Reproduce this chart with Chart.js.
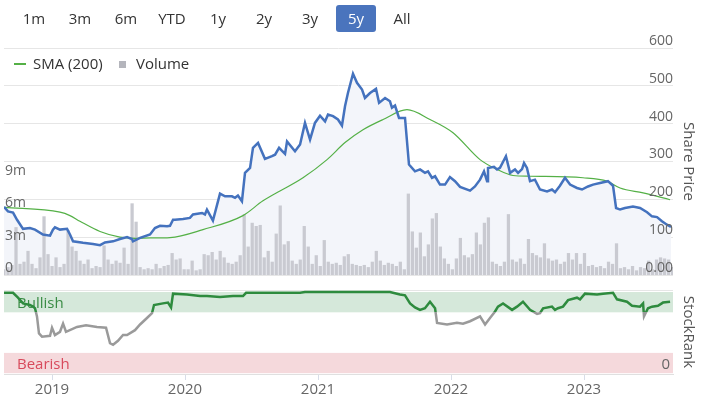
<!DOCTYPE html>
<html>
<head>
<meta charset="utf-8">
<script src="https://cdn.jsdelivr.net/npm/chart.js@4/dist/chart.umd.min.js"></script>
<style>
body { margin: 0; background: #fff; font-family: 'Open Sans', sans-serif; }
#wrap { position: relative; width: 705px; height: 397px; overflow: hidden; }
canvas { position: absolute; left: 0; }
#cTop { top: 0; }
#cRank { top: 283px; }
.btn { position: absolute; top: 5px; width: 40px; height: 27px; line-height: 27px; text-align: center;
       font-size: 15px; color: #333; border-radius: 3px; }
.btn.on { background: #4a74bd; color: #fff; }
.leg { position: absolute; font-size: 15px; color: #333; line-height: 20px; top: 53px; }
#legLine { position: absolute; left: 14px; top: 63px; width: 12px; height: 1.5px; background: #54b046; }
#legBox { position: absolute; left: 119px; top: 61px; width: 7px; height: 7px; background: #b4b5bc; }
</style>
</head>
<body>
<div id="wrap">
  <canvas id="cTop" width="705" height="283"></canvas>
  <canvas id="cRank" width="705" height="114"></canvas>
  <div id="botones"></div>
  <div id="legLine"></div><div class="leg" style="left:33px">SMA (200)</div>
  <div id="legBox"></div><div class="leg" style="left:136px">Volume</div>
</div>
<script>
// --- Datos (x en años decimales) ---
const rangos = ["1m", "3m", "6m", "YTD", "1y", "2y", "3y", "5y", "All"];
const rangoActivo = "5y";

const xMin = 2018.639, xMax = 2023.669;
const anios = [2019, 2020, 2021, 2022, 2023];

const precioX = [2018.639,2018.669,2018.707,2018.737,2018.782,2018.834,2018.872,2018.932,2018.985,2019.007,
  2019.022,2019.060,2019.113,2019.135,2019.158,2019.233,2019.308,2019.361,2019.398,2019.459,
  2019.511,2019.564,2019.601,2019.609,2019.662,2019.737,2019.774,2019.812,2019.865,2019.887,
  2019.910,2019.925,2019.985,2020.037,2020.060,2020.128,2020.150,2020.165,2020.210,2020.263,
  2020.301,2020.353,2020.376,2020.398,2020.428,2020.451,2020.489,2020.511,2020.549,2020.601,
  2020.654,2020.677,2020.707,2020.752,2020.767,2020.827,2020.865,2020.902,2020.940,2020.977,
  2021.015,2021.053,2021.075,2021.113,2021.150,2021.180,2021.203,2021.225,2021.263,2021.293,
  2021.331,2021.353,2021.391,2021.436,2021.459,2021.504,2021.541,2021.556,2021.579,2021.609,
  2021.654,2021.684,2021.729,2021.767,2021.804,2021.827,2021.857,2021.880,2021.917,2021.955,
  2021.992,2022.030,2022.068,2022.143,2022.180,2022.218,2022.248,2022.271,2022.278,2022.323,
  2022.346,2022.368,2022.413,2022.444,2022.481,2022.504,2022.534,2022.549,2022.571,2022.594,
  2022.631,2022.669,2022.722,2022.759,2022.782,2022.819,2022.857,2022.895,2022.947,2022.985,
  2023.030,2023.068,2023.120,2023.180,2023.218,2023.241,2023.271,2023.308,2023.368,2023.421,
  2023.474,2023.511,2023.549,2023.586,2023.624,2023.654];
const precio = [180,168,165,146,122,124,120,107,104,120,
  126,120,122,107,89,85,82,79,86,89,
  95,100,95,89,98,107,124,130,129,130,
  146,146,148,151,160,164,160,173,144,215,
  208,208,204,210,195,270,283,336,349,307,
  314,318,336,320,353,327,345,402,358,402,
  421,406,424,420,411,395,446,481,532,508,
  490,468,481,492,455,468,459,442,448,415,
  415,292,274,279,270,274,257,261,239,239,
  259,248,233,223,234,252,274,248,283,286,
  279,283,314,270,279,270,280,296,283,248,
  252,226,221,226,219,236,257,239,230,226,
  234,239,243,248,236,177,173,177,181,177,
  166,155,153,142,133,127];

const smaX = [2018.639,2019.060,2019.135,2019.210,2019.361,2019.511,2019.624,2019.737,2019.887,2020.135,
  2020.436,2020.586,2020.887,2021.068,2021.203,2021.338,2021.489,2021.669,2021.842,2022.015,
  2022.218,2022.346,2022.466,2022.594,2022.992,2023.173,2023.271,2023.444,2023.647];
const sma = [179,166,157,142,115,100,97,98,99,120,
  157,196,257,305,350,384,411,437,411,376,
  305,279,263,261,257,248,230,217,199];

// volumen en millones, un valor cada 0.0301 años
const volInicio = 2018.639, volPaso = 0.0301;
const volumen = [0.5,0.7,0.9,4.4,1.0,1.2,2.2,1.0,0.6,1.6,
  5.4,1.9,0.8,1.6,0.7,1.0,4.1,2.6,2.2,1.3,
  1.0,1.4,0.6,0.8,0.7,2.7,1.4,1.0,1.3,1.1,
  2.5,1.0,6.6,4.9,0.7,0.5,0.6,0.5,1.0,0.6,
  0.8,0.9,2.0,1.4,1.5,0.5,0.5,1.3,0.4,0.5,
  1.9,1.8,2.1,1.4,2.2,1.6,1.1,1.0,1.2,1.8,
  5.6,2.6,4.8,4.5,4.6,1.6,2.2,1.2,3.8,6.4,
  2.8,3.1,1.3,1.0,1.4,4.5,2.6,1.0,1.8,0.8,
  3.2,1.2,1.0,1.1,0.9,1.7,1.9,1.0,0.9,0.8,
  0.9,0.7,1.2,2.2,1.3,0.9,1.1,1.0,0.8,1.2,
  0.5,7.5,4.0,2.5,3.9,1.7,2.8,5.2,5.7,2.6,
  1.5,1.0,0.5,1.5,3.4,1.8,1.6,1.9,3.9,2.8,
  4.8,5.3,1.2,1.0,0.8,1.2,5.6,1.4,1.2,1.5,
  1.0,3.3,2.0,1.8,1.6,2.9,1.5,1.3,1.4,1.0,
  1.2,2.0,1.4,2.0,1.0,2.0,0.8,0.9,0.7,0.8,
  0.6,1.2,1.0,2.9,0.6,0.7,0.5,0.8,0.4,0.7,
  0.6,1.3,0.5,1.4,1.6,1.5,1.4,0.7];

const precioTicks = [0, 100, 200, 300, 400, 500, 600];
const volTicks = [0, 3, 6, 9];
const volEtiquetas = ["0", "3m", "6m", "9m"];

const rankX = [2018.639,2018.707,2018.744,2018.782,2018.834,2018.857,2018.872,2018.887,2018.902,2018.925,
  2018.985,2019.000,2019.022,2019.060,2019.083,2019.105,2019.188,2019.256,2019.338,2019.406,
  2019.436,2019.459,2019.496,2019.534,2019.564,2019.624,2019.662,2019.714,2019.752,2019.767,
  2019.834,2019.872,2019.895,2019.910,2020.015,2020.113,2020.165,2020.263,2020.361,2020.436,
  2020.459,2020.616,2020.865,2020.902,2021.278,2021.541,2021.616,2021.654,2021.692,2021.729,
  2021.767,2021.804,2021.842,2021.880,2021.895,2021.970,2022.045,2022.090,2022.143,2022.218,
  2022.256,2022.293,2022.331,2022.353,2022.391,2022.459,2022.496,2022.541,2022.594,2022.647,
  2022.669,2022.692,2022.759,2022.782,2022.804,2022.842,2022.880,2022.947,2022.970,2023.007,
  2023.098,2023.143,2023.218,2023.248,2023.323,2023.361,2023.421,2023.444,2023.451,2023.481,
  2023.511,2023.556,2023.594,2023.647];
const rank = [99,99,93,86,84,82,80,70,49,45,
  46,56,47,51,61,51,57,59,57,56,
  37,35,40,47,47,53,60,68,74,84,
  86,87,81,98,97,95,95,94,95,95,
  99,99,99,100,100,100,97,96,86,81,
  78,80,88,80,62,60,62,61,64,70,
  60,68,76,82,86,78,82,88,78,73,
  74,80,82,78,80,82,90,93,91,98,
  97,98,99,91,88,83,82,86,70,80,
  82,83,87,88];

const zonas = ["Bullish", "Bearish"];
const limiteBull = 75, limiteBear = 25;

// --- Botones de rango ---
const cont = document.getElementById("botones");
rangos.forEach((r, i) => {
  const b = document.createElement("div");
  b.className = "btn" + (r === rangoActivo ? " on" : "");
  b.style.left = (14 + 46 * i) + "px";
  b.textContent = r;
  cont.appendChild(b);
});

Chart.defaults.font.family = "'Open Sans', sans-serif";

const puntos = (xs, ys) => xs.map((x, i) => ({ x: x, y: ys[i] }));
const volPts = volumen.map((v, i) => ({ x: volInicio + i * volPaso, y: v }));

// --- Grafico superior: precio, SMA y volumen ---
new Chart(document.getElementById("cTop"), {
  type: "line",
  data: {
    datasets: [
      {
        label: "Price", data: puntos(precioX, precio), yAxisID: "price", order: 1,
        borderColor: "#4472be", borderWidth: 2.5, pointRadius: 0,
        fill: "origin", backgroundColor: "#f3f5fa"
      },
      {
        label: "SMA (200)", data: puntos(smaX, sma), yAxisID: "price", order: 2,
        borderColor: "#54b046", borderWidth: 1.2, pointRadius: 0,
        cubicInterpolationMode: "monotone", fill: false
      },
      {
        type: "bar", label: "Volume", data: volPts, yAxisID: "vol", order: 3,
        backgroundColor: "#c9cad1", barThickness: 2.6
      }
    ]
  },
  options: {
    responsive: false, animation: false, devicePixelRatio: 1,
    layout: { padding: { top: 48, bottom: 8, left: 0, right: 0 } },
    plugins: {
      legend: { display: false }, tooltip: { enabled: false },
      filler: { drawTime: "beforeDatasetsDraw" }
    },
    scales: {
      x: { type: "linear", min: xMin, max: xMax, bounds: "data", offset: false, display: false, grid: { offset: false } },
      price: {
        position: "right", min: 0, max: 600, bounds: "data",
        grid: { color: "#e6e6e6", drawTicks: false }, border: { display: false },
        afterBuildTicks: s => { s.ticks = precioTicks.map(v => ({ value: v })); },
        afterFit: s => { s.width = 32; s.paddingTop = 0; s.paddingBottom = 0; },
        ticks: {
          z: 1, mirror: true, padding: 0, labelOffset: -7, color: "#666", font: { size: 14 },
          callback: v => v === 0 ? "0.00" : String(v)
        },
        title: { display: true, text: "Share Price", color: "#555", font: { size: 15 }, padding: { top: 8, bottom: 0 } }
      },
      vol: {
        position: "left", min: 0, max: 21, bounds: "data",
        grid: { display: false }, border: { display: false },
        afterBuildTicks: s => { s.ticks = volTicks.map(v => ({ value: v })); },
        afterFit: s => { s.width = 4; s.paddingTop = 0; s.paddingBottom = 0; },
        ticks: {
          z: 1, mirror: true, padding: 1, labelOffset: -7, color: "#666", font: { size: 14 },
          callback: (v, i) => volEtiquetas[i]
        }
      }
    }
  }
});

// --- Grafico inferior: StockRank ---
const bandas = {
  id: "bandas",
  beforeDatasetsDraw(chart) {
    const { ctx, chartArea: a, scales } = chart;
    const r = scales.rank;
    const y100 = r.getPixelForValue(100), yB = r.getPixelForValue(limiteBull);
    const yS = r.getPixelForValue(limiteBear), y0 = r.getPixelForValue(0);
    ctx.save();
    ctx.fillStyle = "#d5e8da";
    ctx.fillRect(a.left, y100, a.right - a.left, yB - y100);
    ctx.fillStyle = "#f5d9dc";
    ctx.fillRect(a.left, yS, a.right - a.left, y0 - yS);
    ctx.strokeStyle = "#e6e6e6";
    ctx.lineWidth = 1;
    ctx.beginPath();
    ctx.moveTo(a.left, a.top + 0.5);
    ctx.lineTo(a.right, a.top + 0.5);
    ctx.stroke();
    ctx.font = "15px 'Open Sans'";
    ctx.textBaseline = "middle";
    ctx.fillStyle = "#3a8c45";
    ctx.fillText(zonas[0], a.left + 13, (y100 + yB) / 2 + 2);
    ctx.fillStyle = "#d84a5c";
    ctx.fillText(zonas[1], a.left + 13, (yS + y0) / 2 + 2);
    ctx.restore();
  }
};

function colorRank(context) {
  const chart = context.chart;
  const { ctx, chartArea } = chart;
  if (!chartArea) return "#2e8b3e";
  const y = chart.scales.rank.getPixelForValue(limiteBull);
  const t = Math.min(1, Math.max(0, (y - chartArea.top) / (chartArea.bottom - chartArea.top)));
  const g = ctx.createLinearGradient(0, chartArea.top, 0, chartArea.bottom);
  g.addColorStop(0, "#2e8b3e");
  g.addColorStop(t, "#2e8b3e");
  g.addColorStop(t, "#9a9a9a");
  g.addColorStop(1, "#9a9a9a");
  return g;
}

new Chart(document.getElementById("cRank"), {
  type: "line",
  data: {
    datasets: [{
      label: "StockRank", data: puntos(rankX, rank), yAxisID: "rank",
      borderColor: colorRank, borderWidth: 2.5, pointRadius: 0, fill: false
    }]
  },
  options: {
    responsive: false, animation: false, devicePixelRatio: 1,
    layout: { padding: { top: 7, bottom: 0, left: 4, right: 0 } },
    plugins: { legend: { display: false }, tooltip: { enabled: false } },
    scales: {
      x: {
        type: "linear", min: xMin, max: xMax, bounds: "data", offset: false,
        afterBuildTicks: s => { s.ticks = anios.map(v => ({ value: v })); },
        afterFit: s => { s.height = 23; s.paddingLeft = 0; s.paddingRight = 0; },
        grid: { drawOnChartArea: false, color: "#d8dde8", tickLength: 6 },
        border: { color: "#e0e0e0" },
        ticks: { color: "#666", font: { size: 15 }, padding: 1, maxRotation: 0, autoSkip: false, callback: v => String(v) }
      },
      rank: {
        position: "right", min: -1, max: 102.5, bounds: "data",
        grid: { display: false }, border: { display: false },
        afterBuildTicks: s => { s.ticks = [{ value: 0 }]; },
        afterFit: s => { s.width = 32; s.paddingTop = 0; s.paddingBottom = 0; },
        ticks: { z: 1, mirror: true, padding: -3, labelOffset: -8, color: "#666", font: { size: 15 }, callback: v => String(v) },
        title: { display: true, text: "StockRank", color: "#555", font: { size: 15 }, padding: { top: 8, bottom: 0 } }
      }
    }
  },
  plugins: [bandas]
});
</script>
</body>
</html>
